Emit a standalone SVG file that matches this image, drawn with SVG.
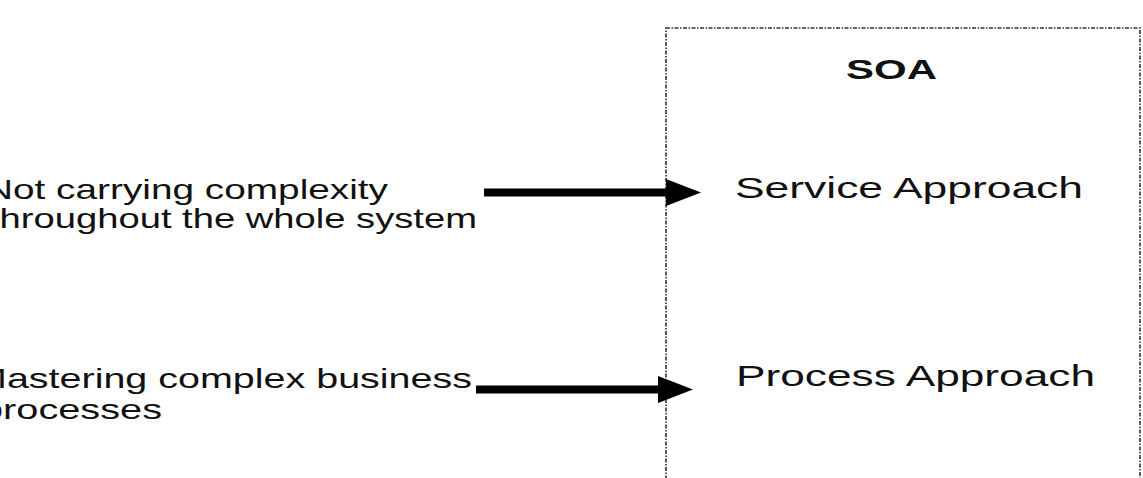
<svg xmlns="http://www.w3.org/2000/svg" width="1143" height="478" viewBox="0 0 1143 478">
  <style>
    .t { font-family: "Liberation Sans", Arial, sans-serif; fill: #111; }
    .conn { stroke: #000; stroke-width: 8; fill: none; }
    .box { fill: none; stroke: #333; stroke-width: 1.6; stroke-dasharray: 4 1.5 1.5 1.5; }
  </style>
  <defs>
    <marker id="head" markerUnits="userSpaceOnUse" markerWidth="36" markerHeight="28" refX="0" refY="13.5" orient="auto">
      <path d="M0,0 L35,13.5 L0,27 Z" fill="#000"/>
    </marker>
  </defs>
  <rect width="1143" height="478" fill="#fff"/>

  <g id="soa">
    <rect class="box" x="666" y="28" width="474" height="470"/>
    <text class="t" x="846" y="79" font-size="28" font-weight="bold" textLength="91" lengthAdjust="spacingAndGlyphs">SOA</text>
  </g>

  <g id="service-approach">
    <text class="t" x="735" y="198" font-size="29" textLength="348" lengthAdjust="spacingAndGlyphs">Service Approach</text>
  </g>

  <g id="process-approach">
    <text class="t" x="736" y="386" font-size="30" textLength="359" lengthAdjust="spacingAndGlyphs">Process Approach</text>
  </g>

  <g id="complexity">
    <text class="t" x="-15" y="199" font-size="28" textLength="403" lengthAdjust="spacingAndGlyphs">Not carrying complexity</text>
    <text class="t" x="-11" y="228" font-size="28" textLength="488" lengthAdjust="spacingAndGlyphs">throughout the whole system</text>
  </g>

  <g id="business">
    <text class="t" x="-26" y="388" font-size="28" textLength="498" lengthAdjust="spacingAndGlyphs">Mastering complex business</text>
    <text class="t" x="-19" y="419" font-size="28" textLength="181" lengthAdjust="spacingAndGlyphs">processes</text>
  </g>

  <g id="connectors">
    <line class="conn" x1="484" y1="192.5" x2="666" y2="192.5" marker-end="url(#head)"/>
    <line class="conn" x1="476" y1="389.5" x2="658" y2="389.5" marker-end="url(#head)"/>
  </g>
</svg>
